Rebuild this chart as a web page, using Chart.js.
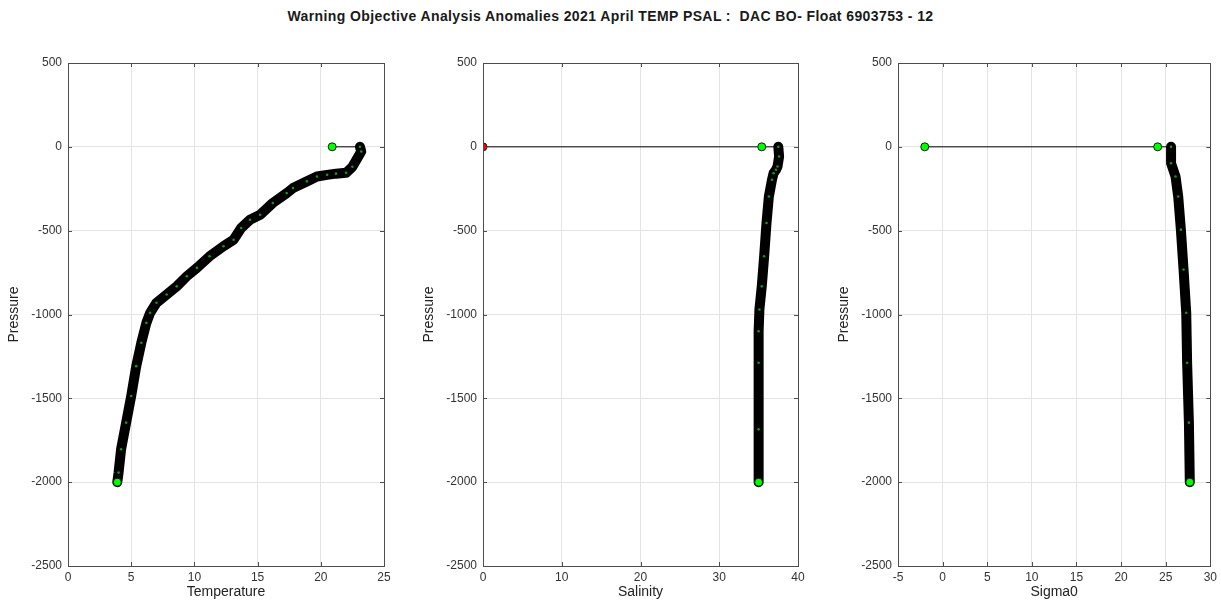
<!DOCTYPE html>
<html>
<head>
<meta charset="utf-8">
<script src="https://cdn.jsdelivr.net/npm/chart.js@4/dist/chart.umd.min.js"></script>
<style>
    body { margin: 0; background: #fff; width: 1221px; height: 601px; overflow: hidden; position: relative; }
    #suptitle {
        position: absolute; left: 0; top: 8px; width: 1221px; text-align: center;
        font: bold 14px "Liberation Sans", Arial, sans-serif; letter-spacing: 0.4px;
        color: #1a1a1a; white-space: pre;
    }
    canvas { position: absolute; top: 0; }
</style>
</head>
<body>
<div id="suptitle">Warning Objective Analysis Anomalies 2021 April TEMP PSAL :  DAC BO- Float 6903753 - 12</div>
<canvas id="temp-chart" width="400" height="601" style="left:0px"></canvas>
<canvas id="psal-chart" width="400" height="601" style="left:415px"></canvas>
<canvas id="sig-chart" width="391" height="601" style="left:830px"></canvas>
<script>
// Profile data (pressure negative, dbar)
const tempPres = [0, -28, -119, -155, -160, -167, -177, -206, -246, -276, -335, -405, -435, -484, -554, -593, -653, -722, -772, -832, -881, -930, -990, -1050, -1169, -1308, -1486, -1645, -1804, -1943, -2000];
const tempVals = [23.1, 23.2, 22.5, 22.0, 21.2, 20.5, 19.7, 18.9, 17.8, 17.3, 16.2, 15.2, 14.4, 13.7, 13.1, 12.3, 11.2, 10.2, 9.4, 8.6, 7.8, 7.0, 6.5, 6.2, 5.8, 5.4, 5.0, 4.6, 4.2, 4.0, 3.9];

const psalPres = [0, -58, -117, -137, -157, -196, -296, -454, -653, -832, -970, -1100, -1288, -1685, -2000];
const psalVals = [37.5, 37.6, 37.4, 37.2, 36.9, 36.7, 36.3, 36.0, 35.7, 35.4, 35.1, 35.0, 35.0, 35.0, 35.0];

const sigPres = [0, -98, -177, -296, -494, -732, -990, -1288, -1645, -2000];
const sigVals = [25.6, 25.6, 26.1, 26.4, 26.7, 27.0, 27.3, 27.4, 27.6, 27.7];

// surface points joined to the profile top by a thin line
const tempSurface = [20.9];
const psalSurface = [0, 35.4];
const sigSurface = [-2.0, 24.1];
const psalBadFlags = [true, false];

// bottom (last) point of each profile
const bottomPres = -2000;

const presTicks = [500, 0, -500, -1000, -1500, -2000, -2500];

const FONT = '"Liberation Sans", Arial, sans-serif';
const GREEN = '#00ff00';

const boxPlugin = {
    id: 'matlabBox',
    afterDraw(chart) {
        const { ctx, chartArea: a, scales } = chart;
        ctx.save();
        ctx.strokeStyle = '#4d4d4d';
        ctx.lineWidth = 1;
        ctx.strokeRect(Math.round(a.left) + 0.5, Math.round(a.top) + 0.5,
            Math.round(a.right - a.left), Math.round(a.bottom - a.top));
        ctx.beginPath();
        scales.x.ticks.forEach(t => {
            const px = Math.round(scales.x.getPixelForValue(t.value)) + 0.5;
            ctx.moveTo(px, a.bottom); ctx.lineTo(px, a.bottom - 4);
            ctx.moveTo(px, a.top); ctx.lineTo(px, a.top + 4);
        });
        scales.y.ticks.forEach(t => {
            const py = Math.round(scales.y.getPixelForValue(t.value)) + 0.5;
            ctx.moveTo(a.left, py); ctx.lineTo(a.left + 4, py);
            ctx.moveTo(a.right, py); ctx.lineTo(a.right - 4, py);
        });
        ctx.stroke();
        ctx.restore();
    }
};

function toPoints(xs, ys) {
    return xs.map((x, i) => ({ x: x, y: ys[i] }));
}

function makePanel(canvasId, cfg) {
    const surfLine = cfg.surface.map(v => ({ x: v, y: 0 }));
    surfLine.push({ x: cfg.vals[0], y: cfg.pres[0] });

    const markerColors = cfg.surface.map((v, i) => cfg.bad && cfg.bad[i] ? '#ff0000' : GREEN);
    const markers = cfg.surface.map(v => ({ x: v, y: 0 }));
    markers.push({ x: cfg.vals[cfg.vals.length - 1], y: bottomPres });
    markerColors.push(GREEN);

    return new Chart(document.getElementById(canvasId), {
        type: 'scatter',
        data: {
            datasets: [
                {
                    data: markers,
                    showLine: false,
                    pointStyle: 'circle',
                    pointRadius: 4,
                    pointBackgroundColor: markerColors,
                    pointBorderColor: '#1a1a1a',
                    pointBorderWidth: 1,
                    order: 0
                },
                {
                    data: toPoints(cfg.vals, cfg.pres),
                    showLine: true,
                    borderColor: '#000000',
                    borderWidth: 10,
                    borderCapStyle: 'round',
                    borderJoinStyle: 'round',
                    pointRadius: 1.3,
                    pointBackgroundColor: '#1f8f1f',
                    pointBorderWidth: 0,
                    order: 1
                },
                {
                    data: surfLine,
                    showLine: true,
                    borderColor: '#000000',
                    borderWidth: 1,
                    pointRadius: 0,
                    order: 2
                }
            ]
        },
        options: {
            responsive: false,
            animation: false,
            devicePixelRatio: 1,
            layout: { padding: { top: 63, right: cfg.padRight, bottom: 0, left: 0 } },
            plugins: { legend: { display: false }, tooltip: { enabled: false } },
            scales: {
                x: {
                    type: 'linear',
                    min: cfg.xMin,
                    max: cfg.xMax,
                    afterBuildTicks(scale) {
                        scale.ticks = cfg.xTicks.map(v => ({ value: v }));
                    },
                    afterFit(scale) { scale.height = 35; },
                    grid: { color: '#e4e4e4', drawTicks: false },
                    border: { display: false },
                    ticks: {
                        padding: 4, color: '#333', font: { family: FONT, size: 12 },
                        callback: v => String(v)
                    },
                    title: {
                        display: true, text: cfg.xTitle, color: '#222',
                        font: { family: FONT, size: 14 }, padding: { top: 0, bottom: 0 }
                    }
                },
                y: {
                    type: 'linear',
                    min: -2500,
                    max: 500,
                    afterBuildTicks(scale) {
                        scale.ticks = presTicks.map(v => ({ value: v }));
                    },
                    afterFit(scale) { scale.width = 68; },
                    grid: { color: '#e4e4e4', drawTicks: false },
                    border: { display: false },
                    ticks: {
                        padding: 6, color: '#333', font: { family: FONT, size: 12 },
                        callback: v => String(v)
                    },
                    title: {
                        display: true, text: 'Pressure', color: '#222',
                        font: { family: FONT, size: 14 }, padding: { top: 6, bottom: 0 }
                    }
                }
            }
        },
        plugins: [boxPlugin]
    });
}

makePanel('temp-chart', {
    vals: tempVals, pres: tempPres, surface: tempSurface,
    xMin: 0, xMax: 25, xTicks: [0, 5, 10, 15, 20, 25], xTitle: 'Temperature', padRight: 16
});
makePanel('psal-chart', {
    vals: psalVals, pres: psalPres, surface: psalSurface, bad: psalBadFlags,
    xMin: 0, xMax: 40, xTicks: [0, 10, 20, 30, 40], xTitle: 'Salinity', padRight: 17
});
makePanel('sig-chart', {
    vals: sigVals, pres: sigPres, surface: sigSurface,
    xMin: -5, xMax: 30, xTicks: [-5, 0, 5, 10, 15, 20, 25, 30], xTitle: 'Sigma0', padRight: 8
});
</script>
</body>
</html>
